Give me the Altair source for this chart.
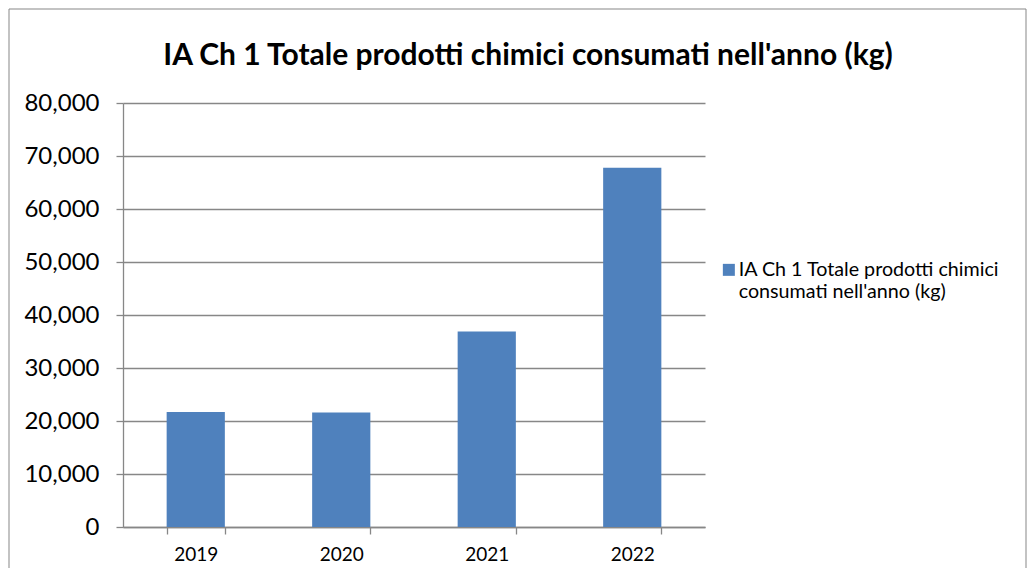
import altair as alt
import pandas as pd

years = ["2019", "2020", "2021", "2022"]
values = [21700, 21600, 36900, 67800]
series_name = "IA Ch 1 Totale prodotti chimici consumati nell'anno (kg)"
chart_title = "IA Ch 1 Totale prodotti chimici consumati nell'anno (kg)"
y_ticks = [0, 10000, 20000, 30000, 40000, 50000, 60000, 70000, 80000]

df = pd.DataFrame({"year": years, "value": values, "series": [series_name] * len(years)})

FONT = "Lato"
GRAY = "#878787"
W, H = 582, 424

bars = alt.Chart(df).mark_bar(color="#4F81BD").encode(
    x=alt.X("year:N", title=None,
            scale=alt.Scale(paddingInner=0.6, paddingOuter=0.3),
            axis=alt.Axis(labelAngle=0, labelFont=FONT, labelFontSize=19, labelColor="#000000",
                          tickBand="extent", ticks=True, tickSize=7, tickColor=GRAY, tickWidth=1.3,
                          domainColor=GRAY, domainWidth=1.3, labelPadding=11, grid=False)),
    y=alt.Y("value:Q", title=None,
            scale=alt.Scale(domain=[0, 80000], nice=False),
            axis=alt.Axis(values=y_ticks, format=",.0f", labelFont=FONT, labelFontSize=24,
                          labelColor="#000000", tickSize=7, tickColor=GRAY, tickWidth=1.3,
                          domainColor=GRAY, domainWidth=1.3, labelPadding=17, grid=True,
                          gridColor=GRAY, gridWidth=1.3)),
    color=alt.Color("series:N", title=None,
                    scale=alt.Scale(range=["#4F81BD"]),
                    legend=alt.Legend(orient="none", legendX=596, legendY=157,
                                      symbolType="square", symbolSize=144, symbolStrokeWidth=0,
                                      labelFont=FONT, labelFontSize=19.7, labelColor="#000000",
                                      labelLimit=400, padding=0, labelOffset=0,
                                      labelExpr="[substring(datum.label, 0, 31), substring(datum.label, 32)]")),
)

title = alt.Chart(pd.DataFrame({"t": [chart_title]})).mark_text(
    font=FONT, fontSize=30, fontWeight="bold", color="#000000", align="center", baseline="alphabetic"
).encode(text="t:N", x=alt.value(405), y=alt.value(-38))

border = alt.Chart(pd.DataFrame({"a": [0]})).mark_rect(
    fill=None, stroke=GRAY, strokeWidth=1
).encode(x=alt.value(-114), x2=alt.value(903), y=alt.value(-94), y2=alt.value(H + 80))

chart = alt.layer(border, bars, title).properties(
    width=W, height=H,
    autosize=alt.AutoSizeParams(type="none"),
    padding={"left": 115, "top": 95, "right": 322, "bottom": 41},
).configure_view(stroke=None)

chart.save("out.html", embed_options={"renderer": "svg", "actions": False})
